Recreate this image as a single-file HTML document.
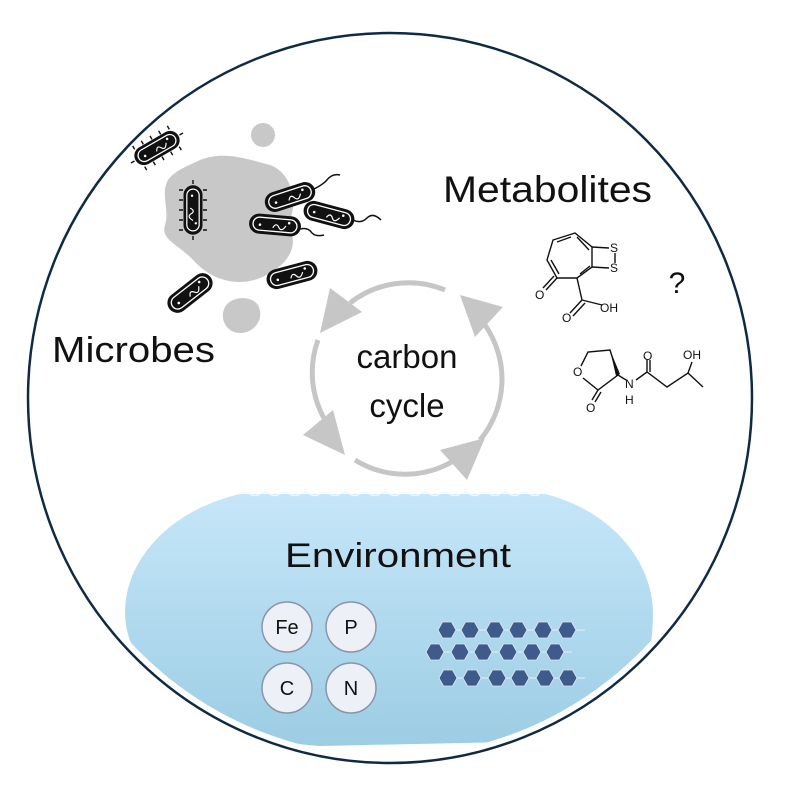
<!DOCTYPE html>
<html><head><meta charset="utf-8"><style>
html,body{margin:0;padding:0;background:#fff;}
svg{display:block;font-family:"Liberation Sans",sans-serif;}
</style></head><body>
<svg width="785" height="800" viewBox="0 0 785 800" xmlns="http://www.w3.org/2000/svg">
<defs>
<linearGradient id="wg" x1="0" y1="0" x2="0" y2="1">
<stop offset="0" stop-color="#c6e6f9"/><stop offset="1" stop-color="#9ccde4"/>
</linearGradient>
<clipPath id="cc"><ellipse cx="390" cy="398" rx="355" ry="358"/></clipPath>
<g id="bac">
<rect x="-26" y="-10" width="52" height="20" rx="10" fill="#111"/>
<rect x="-22" y="-6.5" width="44" height="13" rx="6.5" fill="none" stroke="#fff" stroke-width="1.3"/>
<circle cx="-15" cy="1" r="1.3" fill="#fff"/><circle cx="14" cy="-3" r="1.3" fill="#fff"/>
<path d="M-2 3 q3 -6 6 -1 q3 5 7 -2" fill="none" stroke="#fff" stroke-width="1.2"/>
</g>
<polygon id="hx" points="-9,0 -4.5,-8 4.5,-8 9,0 4.5,8 -4.5,8" fill="#3e5b8c" stroke="#dfe8f2" stroke-width="0.8"/>
</defs>

<!-- water -->
<g clip-path="url(#cc)">
<path d="M240 494 L545 494 C610 510 652 560 653 612 C653 660 640 700 600 740 L320 746 C220 740 125 685 125 612 C125 560 170 510 240 494 Z" fill="url(#wg)"/>
</g>
<path d="M240 494 q5 -3 10 0 t10 0 t10 0 t10 0 t10 0 t10 0 t10 0 t10 0 t10 0 t10 0 t10 0 t10 0 t10 0 t10 0 t10 0 t10 0 t10 0 t10 0 t10 0 t10 0 t10 0 t10 0 t10 0 t10 0 t10 0 t10 0 t10 0 t10 0 t10 0 t10 0" fill="none" stroke="#f0f8fd" stroke-width="1.5"/>

<!-- outer circle -->
<ellipse cx="390" cy="398" rx="362" ry="365" fill="none" stroke="#0f2a42" stroke-width="2.5"/>

<!-- microbes blob -->
<path d="M200 160 C225 150 250 160 270 165 C290 172 300 200 288 225 C300 245 290 265 260 278 C235 288 210 278 195 262 C180 245 160 240 165 225 C170 210 160 195 168 180 C175 170 190 165 200 160 Z" fill="#c8c8c8"/>
<circle cx="263" cy="135" r="12" fill="#c8c8c8"/>
<path d="M225 307 C232 295 252 296 258 305 C265 318 255 333 240 333 C226 333 219 318 225 307 Z" fill="#c8c8c8"/>

<!-- bacteria -->
<g stroke="#111" stroke-width="1.4">
<g transform="translate(157,148) rotate(-30)">
<path d="M-20 -10 v-4 M-10 -10 v-4 M0 -10 v-4 M10 -10 v-4 M20 -10 v-4 M-20 10 v4 M-10 10 v4 M0 10 v4 M10 10 v4 M20 10 v4 M-26 0 h-4 M26 0 h4"/>
</g>
<g transform="translate(193,210) rotate(90)">
<path d="M-20 -10 v-4 M-10 -10 v-4 M0 -10 v-4 M10 -10 v-4 M20 -10 v-4 M-20 10 v4 M-10 10 v4 M0 10 v4 M10 10 v4 M20 10 v4 M-26 0 h-4 M26 0 h4"/>
</g>
</g>
<use href="#bac" transform="translate(157,148) rotate(-30) scale(0.95)"/>
<use href="#bac" transform="translate(193,210) rotate(90) scale(0.95)"/>
<g fill="none" stroke="#111" stroke-width="1.5">
<path d="M314 189 q8 -4 12 -8 q6 -8 14 -6"/>
<path d="M353 220 q8 4 14 -2 q6 -6 14 2"/>
<path d="M300 229 q8 -2 12 4 q4 4 12 2"/>
</g>
<use href="#bac" transform="translate(290,197) rotate(-18)"/>
<use href="#bac" transform="translate(329,215) rotate(15)"/>
<use href="#bac" transform="translate(275,225) rotate(5)"/>
<use href="#bac" transform="translate(292,275) rotate(-15)"/>
<use href="#bac" transform="translate(190,293) rotate(-38)"/>

<!-- carbon cycle arrows -->
<g fill="none" stroke="#c6c6c6" stroke-width="5">
<path d="M350 303 A95 95 0 0 1 445 290"/>
<path d="M485 325 A95 95 0 0 1 480 440"/>
<path d="M455 460 A95 95 0 0 1 355 460"/>
<path d="M325 420 A95 95 0 0 1 318 340"/>
</g>
<g fill="#c6c6c6">
<polygon points="330,288 362,312 320,333"/>
<polygon points="460,295 503,307 475,337"/>
<polygon points="303,435 333,410 345,455"/>
<polygon points="440,450 485,438 467,480"/>
</g>
<text x="407" y="368" font-size="33" text-anchor="middle" fill="#111">carbon</text>
<text x="407" y="417" font-size="33" text-anchor="middle" fill="#111">cycle</text>

<text x="52" y="362" font-size="36" fill="#111" textLength="163" lengthAdjust="spacingAndGlyphs">Microbes</text>
<text x="443" y="202" font-size="37" fill="#111" textLength="209" lengthAdjust="spacingAndGlyphs">Metabolites</text>
<text x="677" y="293" font-size="30" fill="#111" text-anchor="middle">?</text>

<!-- molecule 1 -->
<g fill="none" stroke="#111" stroke-width="1.4">
<path d="M575 233 L553 240 L547 260 L557 278 L577 278 L592 267 L592 247 Z"/>
<path d="M571 237 L557 242 M551 260 L559 274 M580 274 L590 266 M589 250 L577 237"/>
<path d="M592 247 L609 248 M592 267 L609 268 M615 253 v10"/>
<path d="M557 278 L546 290 M554 276 L543 288"/>
<path d="M577 278 L582 300 L570 313 M585 303 L573 316 M582 300 L602 305"/>
</g>
<g font-size="12" fill="#111">
<text x="610" y="252">S</text><text x="610" y="272">S</text>
<text x="535" y="299">O</text><text x="562" y="322">O</text>
<text x="600" y="312">OH</text>
</g>
<!-- molecule 2 -->
<g fill="none" stroke="#111" stroke-width="1.4">
<path d="M581 366 L588 352 L610 350 L618 375 L598 390 L583 378"/>
<path d="M598 390 L592 400 M601 392 L595 402"/>
<path d="M618 375 L626 380 M636 380 L647 372 L667 387 L688 373 L703 387 M688 373 L692 362 M647 372 L647 360 M650 372 L650 360"/>
</g>
<polygon points="610,350 620,374 616,376" fill="#111"/>
<g font-size="12" fill="#111">
<text x="573" y="376">O</text><text x="586" y="412">O</text>
<text x="625" y="388">N</text><text x="625" y="404">H</text>
<text x="643" y="360">O</text><text x="683" y="359">OH</text>
</g>

<text x="398" y="567" font-size="34" text-anchor="middle" fill="#111" textLength="226" lengthAdjust="spacingAndGlyphs">Environment</text>

<g fill="#edf0f6" stroke="#8a94a8" stroke-width="1.5">
<circle cx="287" cy="627" r="25"/><circle cx="351" cy="627" r="25"/>
<circle cx="287" cy="688" r="25"/><circle cx="351" cy="688" r="25"/>
</g>
<g font-size="20" text-anchor="middle" fill="#111">
<text x="287" y="634">Fe</text><text x="351" y="634">P</text>
<text x="287" y="695">C</text><text x="351" y="695">N</text>
</g>

<g stroke="#e8eef5" stroke-width="1" fill="none">
<path d="M447 630 L585 630 M435 652 L572 652 M448 678 L585 678"/>
</g>
<use href="#hx" x="447" y="630"/><use href="#hx" x="470" y="630"/><use href="#hx" x="495" y="630"/><use href="#hx" x="518" y="630"/><use href="#hx" x="543" y="630"/><use href="#hx" x="567" y="630"/>
<use href="#hx" x="435" y="652"/><use href="#hx" x="460" y="652"/><use href="#hx" x="483" y="652"/><use href="#hx" x="508" y="652"/><use href="#hx" x="532" y="652"/><use href="#hx" x="555" y="652"/>
<use href="#hx" x="448" y="678"/><use href="#hx" x="472" y="678"/><use href="#hx" x="497" y="678"/><use href="#hx" x="520" y="678"/><use href="#hx" x="545" y="678"/><use href="#hx" x="568" y="678"/>
</svg>
</body></html>
